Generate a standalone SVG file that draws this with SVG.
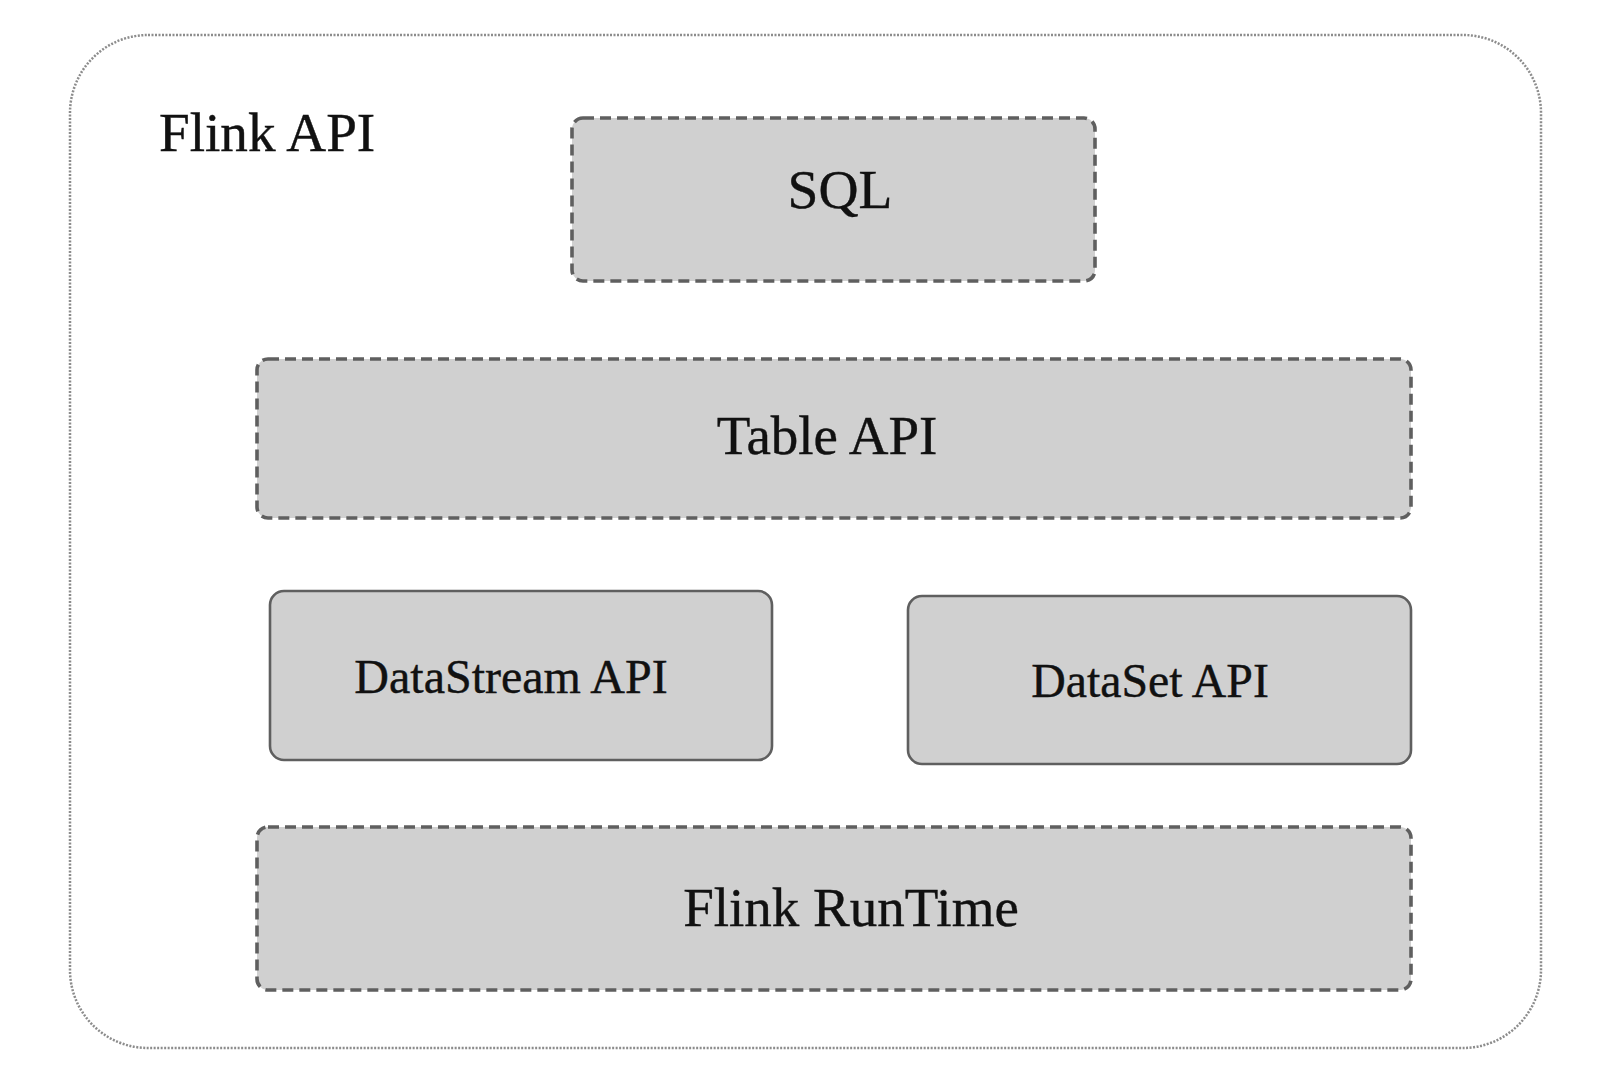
<svg xmlns="http://www.w3.org/2000/svg" width="1608" height="1076" viewBox="0 0 1608 1076">
<style>
.outer{fill:#ffffff;stroke:#8c8c8c;stroke-width:2.5;stroke-dasharray:2 1.5}
.dash{fill:#d0d0d0;stroke:#5f5f5f;stroke-width:3.6;stroke-dasharray:11 6}
.solid{fill:#d0d0d0;stroke:#5f5f5f;stroke-width:2.6}
text{font-family:"Liberation Serif","Times New Roman",serif;fill:#111111;text-anchor:middle;stroke:#111111;stroke-width:0.4}
</style>
<rect width="1608" height="1076" fill="#ffffff"/>
<g id="flink-api">
<rect class="outer" x="70" y="35" width="1471" height="1013" rx="78" ry="78"/>
<text x="159" y="151" font-size="55.2" style="text-anchor:start">Flink API</text>
</g>
<g id="sql">
<rect class="dash" x="572" y="118" width="523" height="163" rx="11"/>
<text x="840" y="208" font-size="55.5">SQL</text>
</g>
<g id="table-api">
<rect class="dash" x="257" y="359" width="1154" height="159" rx="11"/>
<text x="827" y="454" font-size="55">Table API</text>
</g>
<g id="datastream-api">
<rect class="solid" x="270" y="591" width="502" height="169" rx="14"/>
<text x="511" y="693" font-size="48">DataStream API</text>
</g>
<g id="dataset-api">
<rect class="solid" x="908" y="596" width="503" height="168" rx="14"/>
<text x="1150" y="697" font-size="47.8">DataSet API</text>
</g>
<g id="flink-runtime">
<rect class="dash" x="257" y="827" width="1154" height="163" rx="11"/>
<text x="851" y="926" font-size="55">Flink RunTime</text>
</g>
<g id="connectors"></g>
</svg>
